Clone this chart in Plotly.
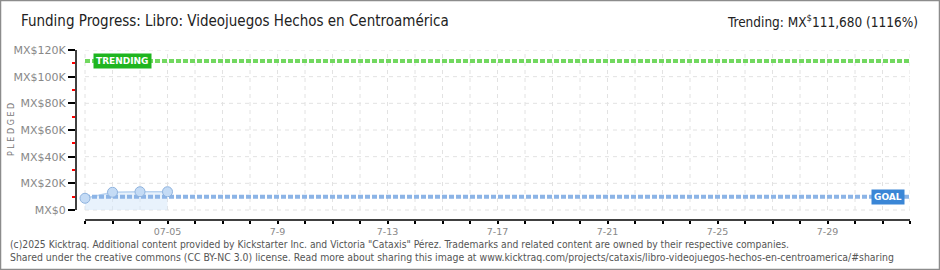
import plotly.graph_objects as go
import pandas as pd

# ---- data ----
dates = ["2025-07-02", "2025-07-03", "2025-07-04", "2025-07-05"]
pledged = [8800, 13300, 13700, 13700]
goal = 10000
trending = 111680
axis_start = "2025-07-02"
axis_end = "2025-08-01"
x_label_dates = ["2025-07-05", "2025-07-09", "2025-07-13", "2025-07-17",
                 "2025-07-21", "2025-07-25", "2025-07-29"]
x_label_text = ["07-05", "7-9", "7-13", "7-17", "7-21", "7-25", "7-29"]
y_ticks = [0, 20000, 40000, 60000, 80000, 100000, 120000]
y_ticktext = ["MX$0", "MX$20K", "MX$40K", "MX$60K", "MX$80K", "MX$100K", "MX$120K"]
y_minor = [10000, 30000, 50000, 70000, 90000, 110000]
title = "Funding Progress: Libro: Videojuegos Hechos en Centroamérica"
trend_text = "Trending: MX<sup>$</sup>111,680 (1116%)"
footer1 = ('(c)2025 Kicktraq. Additional content provided by Kickstarter Inc. and Victoria "Cataxis" Pérez. '
           'Trademarks and related content are owned by their respective companies.')
footer2 = ('Shared under the creative commons (CC BY-NC 3.0) license. Read more about sharing this image at '
           'www.kicktraq.com/projects/cataxis/libro-videojuegos-hechos-en-centroamerica/#sharing')

# ---- layout geometry ----
W, H = 940, 270
L, R, T, B = 76, 30, 50, 50
PW, PH = W - L - R, H - T - B

def px(x):
    return (x - L) / PW

def py(y):
    return (H - B - y) / PH

days = pd.date_range(axis_start, axis_end, freq="D")
x_left = days[0] - pd.Timedelta(days=9 / 27.5)
y_bottom = -7500
y_top = 120000

fig = go.Figure()

fig.add_trace(go.Scatter(
    x=dates, y=pledged, mode="lines", fill="tozeroy",
    fillcolor="rgba(214,232,250,0.55)", line=dict(color="#b9d3f0", width=1.5),
    hoverinfo="skip", showlegend=False))
fig.add_trace(go.Scatter(
    x=[days[0], days[-1]], y=[goal, goal], mode="lines",
    line=dict(color="#8cb4e6", width=4, dash="5px,2px"), showlegend=False, hoverinfo="skip"))
fig.add_trace(go.Scatter(
    x=[days[0], days[-1]], y=[trending, trending], mode="lines",
    line=dict(color="#72d860", width=4, dash="5px,2px"), showlegend=False, hoverinfo="skip"))
fig.add_trace(go.Scatter(
    x=dates, y=pledged, mode="markers",
    marker=dict(size=10, color="#c4dbf5", line=dict(color="#8fb3de", width=1)),
    showlegend=False))

shapes = []
grid_style = dict(color="#e2e2e2", width=1, dash="4px,4px")
for d in days:
    shapes.append(dict(type="line", xref="x", yref="y", x0=d, x1=d, y0=0, y1=y_top,
                       line=grid_style, layer="below"))
for v in y_ticks:
    shapes.append(dict(type="line", xref="x", yref="y", x0=days[0], x1=days[-1], y0=v, y1=v,
                       line=grid_style, layer="below"))
shapes.append(dict(type="line", xref="paper", yref="y", x0=0, x1=0, y0=0, y1=y_top,
                   line=dict(color="#000", width=1.5)))
shapes.append(dict(type="line", xref="x", yref="paper", x0=days[0], x1=days[-1], y0=0, y1=0,
                   line=dict(color="#000", width=1.5)))
shapes.append(dict(type="rect", xref="paper", yref="paper", x0=px(0.5), x1=px(939.5),
                   y0=py(269.5), y1=py(0.5), line=dict(color="#8c8c8c", width=1.5)))

cond = "DejaVu Sans Condensed, Liberation Sans Narrow, Roboto"
annotations = [
    dict(text=title, xref="paper", yref="paper", x=px(19), y=py(21), xanchor="left",
         yanchor="middle", showarrow=False, font=dict(family=cond, size=15, color="#222")),
    dict(text=trend_text, xref="paper", yref="paper", x=px(920), y=py(21), xanchor="right",
         yanchor="middle", showarrow=False, font=dict(family=cond, size=13.5, color="#222")),
    dict(text="P L E D G E D", xref="paper", yref="paper", x=px(11), y=py(130), textangle=-90,
         xanchor="center", yanchor="middle", showarrow=False,
         font=dict(family="DejaVu Sans", size=8, color="#777")),
    dict(text=footer1, xref="paper", yref="paper", x=px(8), y=py(244), xanchor="left",
         yanchor="middle", showarrow=False, font=dict(family=cond, size=10.25, color="#555")),
    dict(text=footer2, xref="paper", yref="paper", x=px(8), y=py(257), xanchor="left",
         yanchor="middle", showarrow=False, font=dict(family=cond, size=10.4, color="#555")),
    dict(text="<b>TRENDING</b>", xref="paper", yref="y", x=px(93), y=trending, xanchor="left",
         yanchor="middle", showarrow=False, bgcolor="#1fb51f", borderpad=2,
         font=dict(family="DejaVu Sans", size=9, color="white")),
    dict(text="<b>GOAL</b>", xref="paper", yref="y", x=px(905), y=goal, xanchor="right",
         yanchor="middle", showarrow=False, bgcolor="#3a86d6", borderpad=2,
         font=dict(family="DejaVu Sans", size=9, color="white")),
]

fig.update_layout(
    width=W, height=H, margin=dict(l=L, r=R, t=T, b=B),
    paper_bgcolor="white", plot_bgcolor="white",
    shapes=shapes, annotations=annotations, showlegend=False,
    xaxis=dict(type="date", range=[x_left, days[-1]], tickvals=x_label_dates, ticktext=x_label_text,
               ticks="outside", ticklen=3, tickcolor="#000", tickwidth=1.5,
               minor=dict(tickvals=list(days), ticks="outside", ticklen=3, tickcolor="#000",
                          tickwidth=1.5, showgrid=False),
               showgrid=False, zeroline=False, showline=False,
               tickfont=dict(family="DejaVu Sans", size=9.5, color="#888")),
    yaxis=dict(range=[y_bottom, y_top], tickvals=y_ticks, ticktext=y_ticktext,
               ticks="outside", ticklen=7, tickcolor="#000", tickwidth=1.5,
               minor=dict(tickvals=y_minor, ticks="outside", ticklen=3, tickcolor="red",
                          tickwidth=1.5, showgrid=False),
               showgrid=False, zeroline=False, showline=False,
               tickfont=dict(family="DejaVu Sans", size=11, color="#888")),
)

fig.write_html("out.html")
